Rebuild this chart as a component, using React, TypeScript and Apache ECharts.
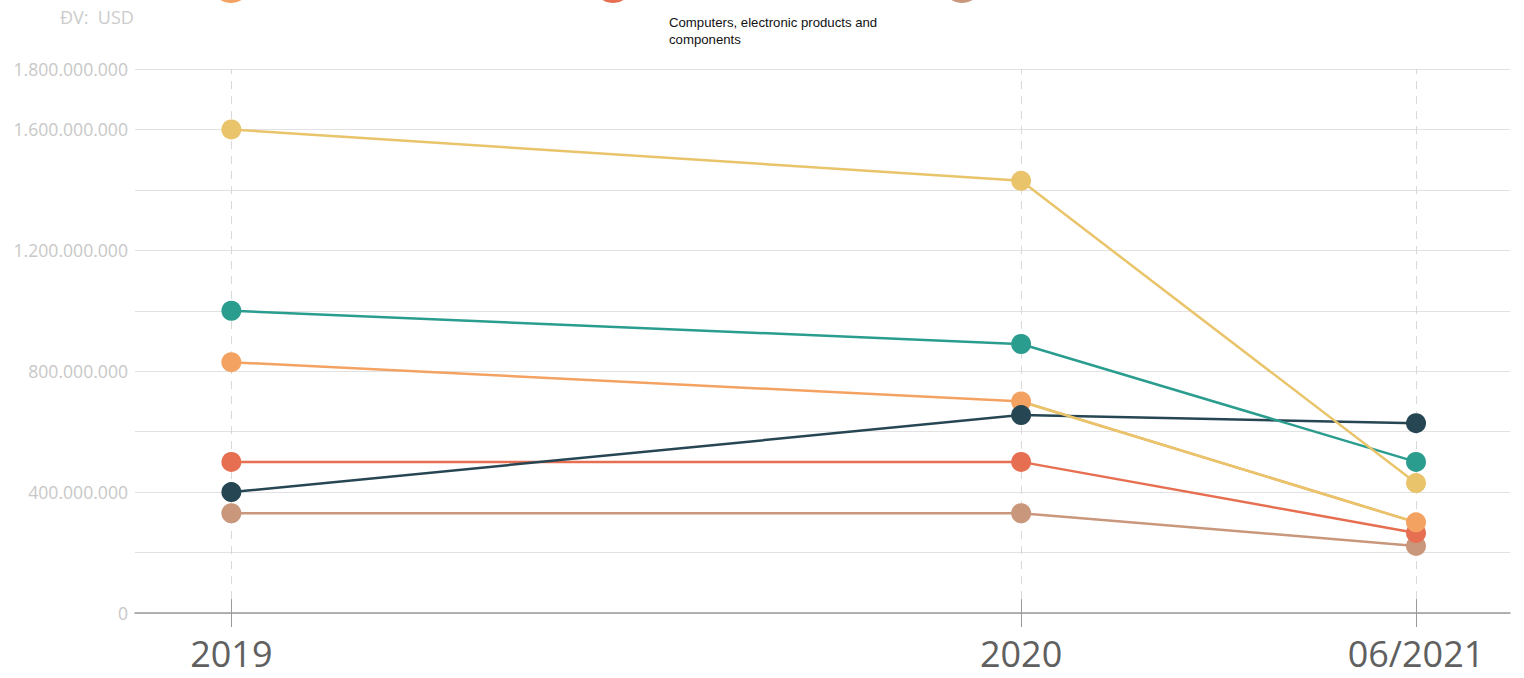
import React, { useEffect, useRef } from "react";
import * as echarts from "echarts";

const xValues = [2019, 2020, 2020.5];
const xLabels = ["2019", "2020", "06/2021"];
const yLabelValues = [0, 400000000, 800000000, 1200000000, 1600000000, 1800000000];

const machinery = [1600000000, 1430000000, 430000000];
const textiles = [1000000000, 890000000, 500000000];
const footwear = [830000000, 700000000, 300000000];
const phones = [400000000, 655000000, 628000000];
const computers = [500000000, 500000000, 265000000];
const wood = [330000000, 330000000, 222000000];

const seriesDefs = [
  { name: "Gỗ và sản phẩm gỗ", data: wood, color: "#C9977B" },
  { name: "Computers, electronic products and components", data: computers, color: "#E76F51" },
  { name: "Giày dép", data: footwear, color: "#F4A261" },
  { name: "Điện thoại và linh kiện", data: phones, color: "#264653" },
  { name: "Hàng dệt may", data: textiles, color: "#2A9D8F" },
  { name: "Máy móc, thiết bị", data: machinery, color: "#E9C46A" },
];

const fmt = (v: number) => String(Math.round(v)).replace(/\B(?=(\d{3})+(?!\d))/g, ".");

export default function App() {
  const ref = useRef<HTMLDivElement>(null);
  useEffect(() => {
    document.body.style.margin = "0";
    if (!ref.current) return;
    const chart = echarts.init(ref.current, null, { renderer: "svg" });
    const yMax = 1800000000;
    const tickHalf = 46000000;
    const markData: any[] = [];
    xValues.forEach((x) => {
      markData.push([
        { coord: [x, tickHalf], lineStyle: { color: "#d9d9d9", type: [8, 7], width: 1 } },
        { coord: [x, yMax] },
      ]);
      markData.push([
        { coord: [x, 0], lineStyle: { color: "#999999", type: "solid", width: 1 } },
        { coord: [x, tickHalf] },
      ]);
    });
    const series: any[] = [
      {
        type: "line",
        name: "guides",
        data: [],
        clip: false,
        silent: true,
        z: 1,
        markLine: {
          silent: true,
          z: 1,
          symbol: "none",
          label: { show: false },
          data: markData,
        },
      },
    ];
    seriesDefs.forEach((s) => {
      series.push({
        type: "line",
        name: s.name,
        data: s.data.map((v, i) => [xValues[i], v]),
        symbol: "circle",
        symbolSize: 20,
        showSymbol: true,
        lineStyle: { color: s.color, width: 2.5 },
        itemStyle: { color: s.color },
      });
    });
    series.push({
      type: "line",
      name: "overlay",
      data: [
        [xValues[1], footwear[1]],
        [xValues[2], footwear[2]],
      ],
      symbol: "none",
      lineStyle: { color: "#E9C46A", width: 2.5 },
      silent: true,
    });
    chart.setOption({
      animation: false,
      grid: { left: 135, right: 14, top: 69, bottom: 65 },
      xAxis: {
        type: "value",
        min: 2018.878,
        max: 2020.619,
        axisLine: { show: true, lineStyle: { color: "#9a9a9a", width: 1.5 } },
        axisTick: {
          show: true,
          customValues: xValues,
          length: 14,
          lineStyle: { color: "#999999", width: 1 },
        },
        splitLine: { show: false },
        axisLabel: {
          customValues: xValues,
          margin: 22,
          fontSize: 36,
          fontFamily: "Open Sans",
          color: "#606060",
          formatter: (v: number) => {
            const i = xValues.findIndex((x) => Math.abs(x - v) < 1e-6);
            return i >= 0 ? xLabels[i] : "";
          },
        },
      },
      yAxis: {
        type: "value",
        min: 0,
        max: yMax,
        interval: 200000000,
        axisLine: { show: false },
        axisTick: { show: false },
        splitLine: { lineStyle: { color: "#e2e2e2", width: 1 } },
        axisLabel: {
          margin: 7,
          fontSize: 17.6,
          fontFamily: "Open Sans",
          color: "#c8c8c8",
          formatter: (v: number) => (yLabelValues.includes(v) ? fmt(v) : ""),
        },
      },
      graphic: [
        {
          type: "text",
          left: 60,
          top: 8,
          style: { text: "ĐV:  USD", fontSize: 18, fontFamily: "Open Sans", fill: "#cccccc" },
        },
        { type: "circle", shape: { cx: 231, cy: -17, r: 20 }, style: { fill: "#F4A261" } },
        { type: "circle", shape: { cx: 613, cy: -17, r: 20 }, style: { fill: "#E76F51" } },
        { type: "circle", shape: { cx: 962, cy: -17, r: 20 }, style: { fill: "#C9977B" } },
        {
          type: "text",
          x: 669,
          y: 13.5,
          style: {
            text: "Computers, electronic products and\ncomponents",
            fontSize: 13.2,
            lineHeight: 17,
            fontFamily: "Liberation Sans",
            fill: "#111111",
          },
        },
      ],
      series,
    });
    return () => chart.dispose();
  }, []);
  return <div ref={ref} style={{ width: 1524, height: 678 }} />;
}
